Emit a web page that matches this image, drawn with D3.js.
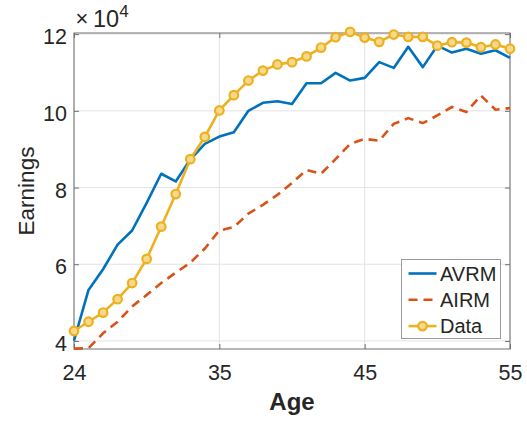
<!DOCTYPE html>
<html>
<head>
<meta charset="utf-8">
<script src="https://cdn.jsdelivr.net/npm/d3@7"></script>
<style>
  body { margin: 0; background: #fff; }
  text { font-family: "Liberation Sans", Arial, sans-serif; fill: #262626; }
</style>
</head>
<body>
<svg id="chart" width="527" height="421"></svg>
<script>
// ages on the x axis (the first tick is labelled 24 in the original figure)
const ages = [25, 26, 27, 28, 29, 30, 31, 32, 33, 34, 35, 36, 37, 38, 39, 40,
              41, 42, 43, 44, 45, 46, 47, 48, 49, 50, 51, 52, 53, 54, 55];

// earnings series, in units of 10^4
const avrm = [4.01, 5.33, 5.87, 6.51, 6.88, 7.60, 8.36, 8.16, 8.73, 9.14, 9.33,
              9.44, 10.00, 10.21, 10.25, 10.18, 10.72, 10.72, 10.99, 10.79, 10.86,
              11.27, 11.12, 11.67, 11.14, 11.70, 11.52, 11.62, 11.49, 11.58, 11.38];
const airm = [3.80, 3.81, 4.20, 4.50, 4.90, 5.20, 5.51, 5.78, 6.04, 6.41, 6.88,
              6.97, 7.32, 7.55, 7.81, 8.12, 8.46, 8.36, 8.74, 9.14, 9.27,
              9.22, 9.66, 9.81, 9.68, 9.88, 10.10, 9.97, 10.40, 10.03, 10.07];
const dataSeries = [4.26, 4.50, 4.74, 5.09, 5.51, 6.14, 6.98, 7.83, 8.74, 9.32, 10.01,
              10.41, 10.79, 11.05, 11.21, 11.27, 11.42, 11.65, 11.92, 12.06, 11.91,
              11.80, 11.99, 11.93, 11.93, 11.70, 11.79, 11.78, 11.66, 11.73, 11.62];

const xTickValues = [25, 35, 45, 55];
const xTickLabels = ["24", "35", "45", "55"];
const yTickValues = [4, 6, 8, 10, 12];
const seriesNames = ["AVRM", "AIRM", "Data"];

const width = 527, height = 421;
const margin = { top: 33, right: 17, bottom: 72, left: 74 };
const innerW = width - margin.left - margin.right;
const innerH = height - margin.top - margin.bottom;

const colors = { AVRM: "#0072BD", AIRM: "#D95319", Data: "#EDB120" };

const svg = d3.select("#chart");
const g = svg.append("g")
    .attr("transform", `translate(${margin.left},${margin.top})`);

const x = d3.scaleLinear().domain([25, 55]).range([0, innerW]);
const y = d3.scaleLinear().domain([3.79, 12.03]).range([innerH, 0]);

// grid
g.append("g")
    .selectAll("line")
    .data(xTickValues)
    .join("line")
    .attr("x1", d => x(d)).attr("x2", d => x(d))
    .attr("y1", 0).attr("y2", innerH)
    .attr("stroke", "#e3e3e3");

g.append("g")
    .selectAll("line")
    .data(yTickValues)
    .join("line")
    .attr("x1", 0).attr("x2", innerW)
    .attr("y1", d => y(d)).attr("y2", d => y(d))
    .attr("stroke", "#e3e3e3");

// axes, ticks pointing inward
const xAxis = g.append("g")
    .attr("transform", `translate(0,${innerH})`)
    .call(d3.axisBottom(x)
        .tickValues(xTickValues)
        .tickFormat((d, i) => xTickLabels[i])
        .tickSize(-5)
        .tickPadding(15.5));

const yAxis = g.append("g")
    .call(d3.axisLeft(y)
        .tickValues(yTickValues)
        .tickFormat(d3.format("d"))
        .tickSize(-5)
        .tickPadding(7));

const xTop = g.append("g")
    .call(d3.axisTop(x).tickValues(xTickValues).tickFormat("").tickSize(-5));

const yRight = g.append("g")
    .attr("transform", `translate(${innerW},0)`)
    .call(d3.axisRight(y).tickValues(yTickValues).tickFormat("").tickSize(-5));

[xAxis, yAxis, xTop, yRight].forEach(a => {
    a.select(".domain").remove();
    a.selectAll(".tick line").attr("stroke", "#6e6e6e");
    a.selectAll("text")
        .attr("font-size", 21.5)
        .attr("fill", "#262626")
        .attr("font-family", "Liberation Sans, Arial, sans-serif");
});
yAxis.selectAll("text").attr("dy", "0.45em");

// box
g.append("rect")
    .attr("width", innerW)
    .attr("height", innerH)
    .attr("fill", "none")
    .attr("stroke", "#6e6e6e");

// lines
const line = d3.line()
    .x((d, i) => x(ages[i]))
    .y(d => y(d));

g.append("path")
    .datum(avrm)
    .attr("d", line)
    .attr("fill", "none")
    .attr("stroke", colors.AVRM)
    .attr("stroke-width", 2.6)
    .attr("stroke-linejoin", "round");

g.append("path")
    .datum(airm)
    .attr("d", line)
    .attr("fill", "none")
    .attr("stroke", colors.AIRM)
    .attr("stroke-width", 2.6)
    .attr("stroke-dasharray", "9,6");

g.append("path")
    .datum(dataSeries)
    .attr("d", line)
    .attr("fill", "none")
    .attr("stroke", colors.Data)
    .attr("stroke-width", 2.6)
    .attr("stroke-linejoin", "round");

g.append("g")
    .selectAll("circle")
    .data(dataSeries)
    .join("circle")
    .attr("cx", (d, i) => x(ages[i]))
    .attr("cy", d => y(d))
    .attr("r", 4.3)
    .attr("fill", "#f5d98c")
    .attr("stroke", colors.Data)
    .attr("stroke-width", 2.2);

// exponent label
svg.append("text")
    .attr("x", 75.5)
    .attr("y", 26)
    .attr("font-size", 22)
    .attr("font-family", "DejaVu Sans, sans-serif")
    .attr("font-weight", 200)
    .attr("fill", "#444")
    .text("\u00d7");
const expo = svg.append("text")
    .attr("x", 93)
    .attr("y", 26.5)
    .attr("font-size", 23.5);
expo.append("tspan").text("10");
expo.append("tspan").attr("font-size", 17).attr("dy", -10).text("4");

// axis titles
svg.append("text")
    .attr("transform", `translate(33.5,${margin.top + innerH / 2}) rotate(-90)`)
    .attr("text-anchor", "middle")
    .attr("font-size", 22.5)
    .text("Earnings");

svg.append("text")
    .attr("x", margin.left + innerW / 2)
    .attr("y", 410)
    .attr("text-anchor", "middle")
    .attr("font-size", 24)
    .attr("font-weight", "bold")
    .text("Age");

// legend
const legend = svg.append("g").attr("transform", "translate(401.5,259.5)");
legend.append("rect")
    .attr("width", 99)
    .attr("height", 79)
    .attr("fill", "#fff")
    .attr("stroke", "#9a9a9a");

const rows = legend.selectAll("g.row")
    .data(seriesNames)
    .join("g")
    .attr("class", "row")
    .attr("transform", (d, i) => `translate(0,${14 + i * 26.3})`);

rows.append("line")
    .attr("x1", 7).attr("x2", 35)
    .attr("stroke", d => colors[d])
    .attr("stroke-width", 2.6)
    .attr("stroke-dasharray", d => d === "AIRM" ? "9,6" : null);

rows.filter(d => d === "Data")
    .append("circle")
    .attr("cx", 21)
    .attr("r", 4.3)
    .attr("fill", "#f5d98c")
    .attr("stroke", colors.Data)
    .attr("stroke-width", 2.2);

rows.append("text")
    .attr("x", 38.5)
    .attr("dy", "0.36em")
    .attr("font-size", 20)
    .text(d => d);
</script>
</body>
</html>
